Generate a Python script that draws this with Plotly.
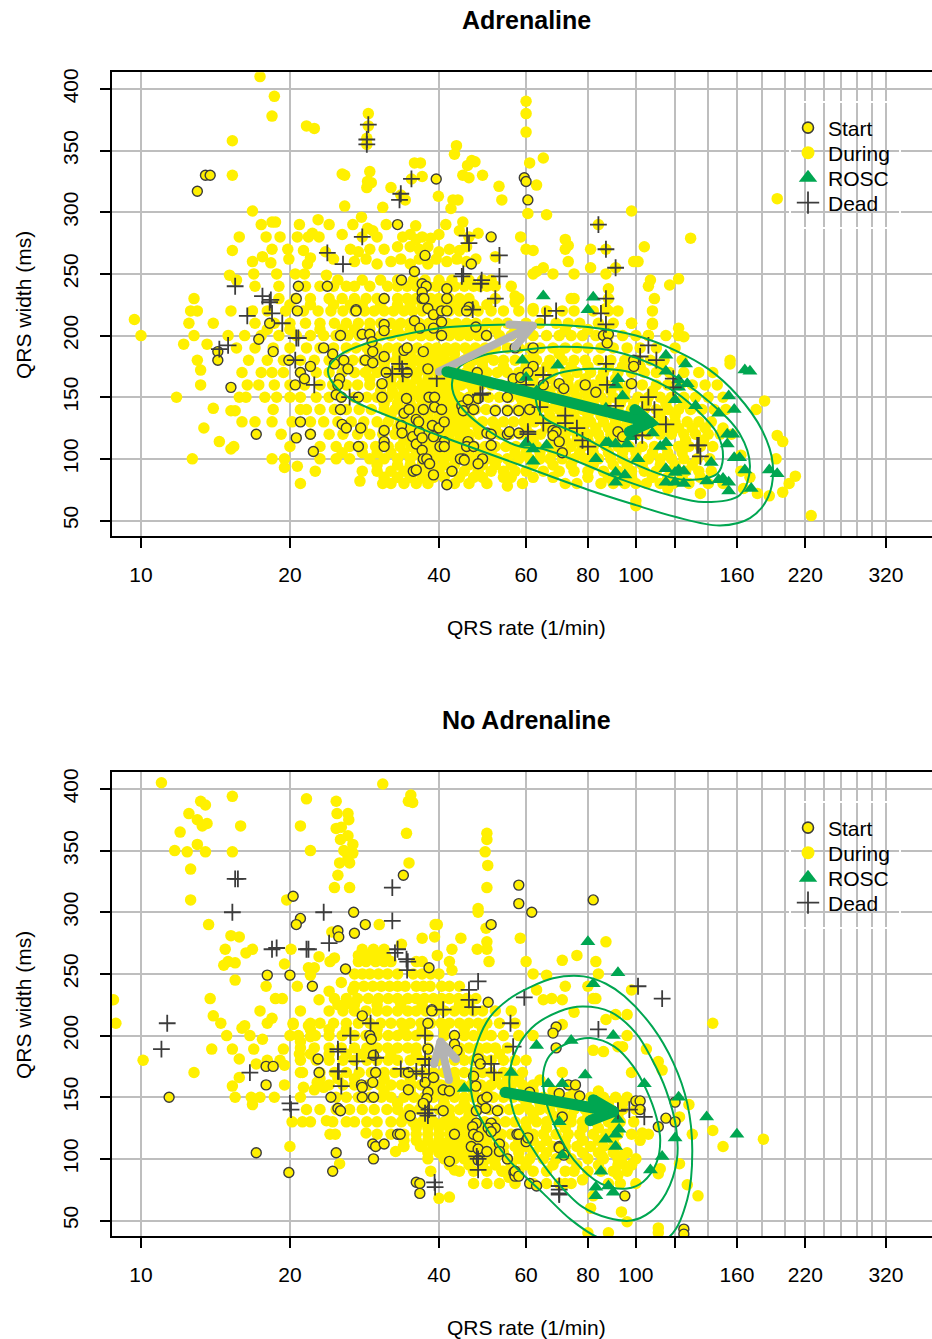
import plotly.graph_objects as go

W, H = 932, 1339
YELLOW = "#FFF000"
GREEN = "#00A651"
GREY = "#B3B3B3"
DARK = "#3C3C3C"
GRID = "#BEBEBE"
FONT = "Liberation Sans, Arial, Helvetica, sans-serif"

x_labelled = [10, 20, 40, 60, 80, 100, 120, 160, 220, 320]
x_labels = ["10", "20", "40", "60", "80", "100", "", "160", "220", "320"]
x_extra_grid = [140, 180, 200, 240, 260, 280, 300]
y_ticks = [50, 100, 150, 200, 250, 300, 350, 400]
panel_titles = ["Adrenaline", "No Adrenaline"]

# (rate, width) isolated points
during_a_sparse = [(17.4,410),(18.6,394),(18.4,378),(21.6,370),(22.4,368),(15.3,358),(15.3,330),(28.8,380),(28.8,370),(28.6,360),(28.6,355),
(43.4,354),(43,347),(35.7,340),(36.7,340),(25.5,331),(25.8,330),(29,333),(28.7,325),(29.2,324),(28.6,320),(37,329),(46.6,342),(47.3,341),(45.7,338),
(44.7,330),(46,328),(49,330),(52.9,321),(53.6,310),(32,320),(25.8,305),(30.8,304),(39.9,313),(42.7,310),(43.7,310),(42.3,303),(33.5,314),(34.2,310),(35.2,327),
(16.8,301),(17.5,290),(18.4,292),(18.7,292),(20.9,290),(22.8,294),(24,290),(26.8,290),(27.9,296),(31.3,290),(35.9,289),(41.3,290),(44.7,292),
(15.8,280),(17.9,280),(19.1,280),(20.7,280),(21.8,280),(22.2,283),(22.9,280),(25.5,282),(28.7,287),(29.4,285),(28,280),(30,280),(33.8,280),(35,282),(36,278),(37,280),(38.5,279),(40,282),(44,285),(46,280),(48,283),
(15.3,269),(16.8,260),(17.6,264),(18.4,270),(18.3,259),(19.8,270),(19.9,262),(21.3,269),(22,263),(21.7,258),(23.6,268),(26.5,270),(27.5,268),(29,270),(31,270),(33,272),(35,272),(36.5,270),(38,272),(40,268),(42,270),(44,269),(45.5,272),
(15.1,249),(16.9,250),(18.8,250),(20.5,250),(21.4,250),(23.7,249),(15.6,245),(12.8,230),(24.5,262),(27,260),(28.5,262),(30,258),(32,260),(33.5,262),(35,258),(36.5,262),(38,258),(39.5,262),(41.5,260),(43.5,262),(45.5,260),(47.5,262),(52,264),
(60,390),(60,380),(60,365),(61,340),(65,344),(63,322),(60.5,299),(66,298),(98,301),(58.5,280),(72,278),(73,273),(72,270),(60,270),(62,269),(81,270),(104,272),(129,279),
(73,260),(99,260),(101,260),(65,255),(63,252),(62,250),(68,250),(75,250),(81,255),(87,250),(84,290),(87,270),(91,255),(107,245),(106,240),(117,241),(122,246),(109,230),(88,238),(193,311),
(74,230),(75,230),(57,232),(57,227),(62,222),(88,230),(87,222),(108,220),(108,209),(122,206),(125,199),(98,210),(106,200),(155,180),(155,177),(182,147),(175,140),(193,119),(198,114),
(210,86),(204,80),(198,73),(192,100),(226,54),(150,125),(163,103),(163,90),(176,72),(186,70),(165,76),(170,85),(9.7,213),(10,200),(11.8,150),(12.6,220),(12.8,200),(12.2,193),(13.6,193),(13.2,172),(13.2,160),
(14,141),(15.2,139),(15.5,139),(13.4,125),(14.4,114),(15.4,110),(15.2,108),(16,130),(17,130),(12.7,100),(20.7,94),(19.5,93),(22.5,90),(21,80),(27.7,82),(30.8,80),(32,80),(38,80),(55,78),(100,62),(100,66),(116,76),(135,72)]

during_a_rows = [
(245,[25,28,30.5,33,35.5,37.5,40,42.5,46,49,51]),
(240,[17,19,21.5,23,24.5,26,27,29,31.5,33,34.5,36,38,39.5,41,43,45,47,48.5,50,52,56]),
(230,[19,20.5,22,24,25.5,27,28.5,30,31,33,34.5,36,37,38.5,40,42,44,46,52,58]),
(225,[20,22,24.5,26.5,28,30.5,33,35,37,39,41,43,45,47,50]),
(220,[13,15.2,16.8,18,19.6,21.3,22.8,24.2,25.6,27,28.3,29.6,31,32.4,34,35.4,37,38.6,40.3,42,44,46,48,51,54,58,62,66,71,75,82,88,92]),
(210,[12.5,14,17,18.6,20,21.5,23,24.6,26,27.5,29,30.5,32,33.5,35,36.5,38.2,39.8,41.6,43.4,45.5,47.5,50,52.5,55,60,64,69,73,77,84,90,98,108]),
(205,[18,20,23,25.5,27,29,31,33,35,37,39,41,43,45,47,49,52,57,72,80,87]),
(200,[15,16.2,17.5,19,20.6,22,23.4,24.8,26.2,27.6,29,30.5,32,33.6,35.2,36.8,38.5,40.2,42,44,46,48,50,53,56,59,62,66,70,74,78,83,88,94,100,106,115,122]),
(190,[15.6,17,18.5,20,21.6,23,24.5,26,27.2,28.6,30,31.6,33,34.6,36.2,38,39.6,41.4,43.2,45.2,47.4,49.6,52,55,58,61,64,68,72,76,80,85,90,96,102,110,120]),
(185,[29,31,33,35,37,39,41,43,46,50,62,70]),
(180,[13,16.5,18,19.4,21,22.4,24,25.4,26.8,28.2,29.8,31.2,32.8,34.4,36,37.6,39.4,41.2,43,45,47,49.2,51.6,54,57,60,63,67,71,75,79,84,89,95,101,107,114,124]),
(175,[26,29,31,33,35,37,39,41,43,46,49,54,60,66,74,80,88,94,102,112]),
(170,[16,17.5,18.4,19.4,21,22.6,24,25.5,27,28.4,30,31.5,33,34.6,36.2,38,39.8,41.6,43.4,45.4,47.4,50,52.5,55,58,61,64,68,72,76,81,86,92,98,104,110,117,125,134,143]),
(165,[29,32,34,36,38,40,42,44,46,62,67,73,79,85,91]),
(160,[16.4,17.3,18.6,20,21.4,23,24.4,26,27.4,29,30.6,32,33.6,35,37,38.8,40.6,42.4,44.4,46.4,48.6,51,53.5,56,59,62,65,69,73,77,82,87,92,97,103,110,116,123,130,138,146]),
(155,[30.5,32.2,34,35.8,37.5,39.4,41.2,43,47,60,64,67,71,75,79,84,89,95,108]),
(150,[15.8,16.3,17.8,18.8,20,21,22.6,24,25.4,27,28.6,30,31.6,33.2,35,36.6,38.4,40.2,42,44,46,48,50.4,53,55.6,58.4,61,64.6,68,72,76,80,85,90,95,101,106,112,118,125,132,140,150]),
(145,[31,33,35,37,39,41,43,45,47,59,62,65,69,73,77,82,87,93,99,105,115,125]),
(140,[18.5,21,21.6,23,24.6,26,27.6,29.2,31,32.6,34.2,36,37.8,39.6,41.4,43.4,45.4,47.4,49.8,52,55,57.6,60.4,63.4,66.6,70,74,78,82,87,92,98,104,110,116,122,129,136,144,152]),
(135,[32,34,36,38,40,42,44,46,60,63,67,71,75,80,85,90,96,101,112,120]),
(130,[18.4,20.2,22,23.4,25,26.6,28.2,30,31.6,33.4,35,36.8,38.6,40.6,42.6,44.6,46.6,49,51.4,54,56.6,59.4,62.4,65.4,69,73,77,81,86,91,96,102,108,114,120,127,134,142]),
(125,[28,31,33,35,37,39,41,43,45,48,52,60,66,70,74,78,83,88,93,110,116,122,130,138]),
(120,[19.2,22,24,25.6,27.4,29,30.8,32.6,34.4,36.2,38,40,42,44,46,48.2,50.6,53,55.6,58.4,61.2,64.2,68,72,76,80,84,89,94,100,106,112,118,125,132,140,148,156]),
(115,[34,36,38,40,42,44,46,62,68,72,76,80,85,90,95,126,137]),
(110,[20,23,24.8,26.4,28,29.8,31.6,33.4,35.2,37,39,41,43,45,47.2,49.6,52,54.6,57.2,60,63,66.4,70,74,78,82,87,92,97,103,109,115,122,128,135,143]),
(105,[25.5,28,30,32,34,36,38,40,42,44,46,48.5,51,57,60,64,68,72,77,82,88,94,100,108,116,124]),
(100,[18.4,19.5,23,24.8,26.4,29,31,33,35,37,39,41,43,45,47.5,50,52.5,55,58,61,64,67,71,75,79,84,89,94,100,106,112,118,125,133,141]),
(95,[30,33,35,37,39,41,43,46,49,52,56,62,68,74,82,90,96,103,112,120,130]),
(90,[28,30,32,34,36,38,40,42.5,45,48,51,54,57,60,65,70,75,80,86,92,98,104,110,118,126,134,142]),
(85,[31,33,35,37,39,41,44,47,49,54,56,62,68,80,88,94,98,108,116,124,135]),
(80,[34,36,43,46,50,59,72,76,85,90,95,100,105,112,119,128,140,150]),
]

start_a = [(13,317),(13.5,330),(13.8,330),(39.5,327),(33,290),(51,280),(37.5,265),(46.5,258),(35.7,252),(33.6,245),(37,242),(37.7,240),(37,235),(37,230),(37.3,230),(41.5,238),(41.5,230),(31,230),(20.8,240),(23.8,240),(20.6,230),(27.2,221),
(59.5,328),(60,325),(60.5,310),(27.2,220),(31,209),(31,204),(25.3,200),(28,201),(29,201),(29.3,195),(29.4,187),(23.4,190),(24.4,185),(25.7,180),(24.6,177),(26.2,173),(28.4,180),(29.4,178),(31,183),(25.2,165),(25,160),(24.8,152),(25.4,150),(27.5,150),(25.3,140),(25.5,128),(26,125),(27.8,125),(27.5,110),(31,123),(31,114),(31,110),(30.7,161),(30.7,150),(31.3,170),(34.5,170),(34,188),(34.5,190),(37.2,187),(35.7,212),(36.6,206),(39,206),(40.5,211),(40.5,200),(38,173),(38.2,150),(39.2,150),(34.4,149),(37.2,140),(39.2,142),(40.5,140),(34,137),(34.8,140),(36,132),(36.4,130),(33.6,127),(33.7,121),(35.4,118),(36.5,122),(38.8,127),(40,125),(41,130),(39,118),(36,112),(37,117),(41,114),(40.2,110),(41,110),(37,107),(37.2,100),(37.8,100),(38.3,96),(39,87),(42.5,90),(35.5,90),(36,91),(41.5,79),(44.8,100),(44.2,100),(45,99),(45.8,114),(45.5,110),(47,110),(49,100),(48,96),(51,111),(50,121),(51,120),(55,120),(55.5,122),(55,139),(52,139),(47,140),(44.5,143),(44.8,139),(45.8,148),(48,149),(55,150),(47.8,170),(56.5,165),(49.9,200),(47.5,207),(57,190),(38,222),(39,217),(40.5,220),(41.5,220),(46,223),(45.5,220),
(17.3,197),(18.5,187),(19.9,180),(22,175),(21,170),(21.4,165),(20.5,160),(18.2,210),(20.7,220),(14.3,187),(14.3,180),(15.2,158),(21,130),(17.1,120),(20.6,117),(22,120),(22.3,106),
(62,190),(62,175),(58.5,166),(60.5,170),(65,160),(70,161),(71.5,157),(79,160),(83,154),(98,161),(99,180),(99,175),(86,200),(88,201),(87.5,194),(61,140),(58,139),(58,121),(68,123),(69,122),(68,119),(70,114),(71,105),(92,122),(94,118)]
dead_a = [(28.8,371),(28.6,359),(28.6,355),(35.2,327),(33.5,315),(33.3,310),(28,280),(23.8,267),(25.6,258),(15.5,240),(17.6,232),(18.3,229),(45.6,281),(46,275),(53,265),(53,248),(44.8,250),(44.5,248),(48.8,245),(48.6,242),(52,230),
(16.4,216),(18.4,218),(18.2,227),(19.3,210),(20.6,198),(20.8,198),(14.4,189),(15,192),(20.5,180),(22.4,160),(26.4,150),(33.3,177),(33.7,173),(32.2,169),(33.8,169),(39.6,165),(46.8,221),(48.5,152),(49,153),
(84,290),(87,270),(91,255),(87,230),(69,220),(65.5,216),(85,218),(87,209),(87,177),(87.5,160),(106,192),(102,183),(110,180),(119,165),(119,158),(106,150),(103,140),(109,140),(91,143),(115,128),(133,111),(134,111),(135,102),(103,119),(100,119),(76,125),(78,115),(80,110),(72,135),(72,129),(65,129),(60.5,122),(60.5,120),(60,160),(65,168),(64,142)]
rosc_a = [(65,232),(82,231),(80,221),(59,180),(69.5,176),(60,166),(63,155),(92,165),(91,160),(94,151),(87,141),(115,184),(126,177),(115,171),(122,164),(127,161),(122,158),(120,148),(132,143),(147,137),(154,151),(158,140),(166,172),(170,171),(153,120),(157,120),(153,112),(158,101),(162,101),(166,91),(171,76),(186,91),(193,88),(142,97),(139,82),(147,83),(150,84),(154,81),(154,74),(115,92),(120,89),(122,91),(125,90),(115,81),(120,81),(125,80),(91,89),(95,87),(91,81),(101,100),(83,100),(87,113),(88,113),(91,112),(96,112),(98,118),(108,121),(115,113),(112,110),(60,113),(62,108),(66,111),(62,98)]

contour_a_outer = [(23.9,173),(24.1,165),(26.4,149),(33.4,131),(40,119),(58.3,95),(80,75),(100,62.5),(120,53),(148,46),(170,52),(185,69),(189,96),(180,123),(160,152),(140,173),(120,188),(100,200),(80,207),(60,209),(40,206),(33.3,200),(28.5,193.5),(25.2,184),(23.9,173)]
contour_a_middle = [(42.5,161),(43.8,145),(50.7,122),(58.3,110),(65,108),(94,83),(117,70.5),(137,65),(162,70.5),(170,93.5),(162,120.5),(142,145),(114,172),(88.6,188),(70,191),(58.3,188),(49.2,184),(44.1,175),(42.5,161)]
contour_a_inner = [(62.8,147.6),(65,134),(76,120.5),(95.6,99),(117.5,85),(130,83),(146,88),(150,101.6),(146,120.5),(133,139.5),(116,158),(95.6,171),(81,173),(68.3,168),(63.4,158),(62.8,147.6)]
arrow_grey_a = [(40,170.7),(61.9,208),(55.5,209),(61.9,208),(57,191)]
arrow_green_a = [(41.5,170.7),(106.7,129.5),(99.5,140),(106.7,129.5),(97,122)]

during_b_sparse = [(11,405),(30.8,404),(15.3,394),(13.2,390),(13.5,387),(12.5,380),(13,375),(13.3,370),(13.6,372),(15.9,370),(12,365),(13,355),(11.7,350),(12.4,349),(13.5,349),(15.3,349),(12.6,335),(12.6,310),(21.6,392),(21,370),(22,350),(24.8,390),(24.9,380),(26.2,380),(26.3,375),(24.8,368),(25.4,369),(26.2,362),(25.3,359),(26.8,355),(25.7,350),(26.8,348),(26.2,345),(25.2,340),(26.4,340),(25,330),(24.6,320),(26.4,320),(35.1,395),(34.7,390),(35.4,389),(34.4,364),(34.8,340),(50,364),(50,359),(49.6,349),(50.2,338),(50,320),(48,303),(48,300),(49.8,287),(50,276),(50,270),(50.5,260),(47.8,270),(39.7,290),(39.3,290),(39.2,280),(37,279),(44.3,279),(42.5,270),(42,260),(42.5,253),(39.7,265),
(13.7,290),(15.2,281),(15.8,280),(14.8,270),(16.3,267),(16.8,270),(15,260),(14.7,257),(15.5,259),(15.5,245),(19.7,310),(20.1,270),(19.5,258),(21.8,255),(22.4,255),(22,249),(17.9,240),(20.7,240),(18.7,230),(19.3,230),(13.8,230),(8.8,229),(24.3,284),(22.9,264),(24.1,260),(24.6,263),(30.3,290),(33.6,274),(25.4,243),(26.8,237),(24,236),(22.9,229),(24.6,230),(26.2,226),
(14,216),(18.4,214),(21.8,208),(20.3,209),(16.2,208),(16,206),(14.9,200),(8.9,210),(10.1,180),(12.8,170),(13.9,189),(15.3,189),(16.9,189),(17.6,197),(16.6,200),(19.4,189),(15.8,181),(17.1,177),(18,180),(19.1,180),(19.5,176),(15.8,166),(15.3,159),(19.5,160),(15.5,150),(16.7,150),(17.4,150),(18.6,150),(16.8,144),(21,170),(20.9,185),(20.8,200),(22,199),(21,195),(21.3,158),(22.7,162),(22.4,156),(23.4,158),(21.6,140),(20.2,130),(21.2,130),(22,130),(23.7,131),(24.4,130),(26,130),(24.1,120),(24.7,120),(20,110),(25.2,96),(28.5,121),(32.7,106),(33.9,110),(36.7,110),(39.1,110),(42,102),(43,91),(40,68),(42,69),(38.5,90),(53.6,90),(55.4,85),
(58.4,279),(87,276),(76,265),(71,261),(60,260),(83,260),(62,250),(66,249),(84,250),(72,240),(80,240),(98,237),(82,230),(83,230),(63,237),(65,229),(67.6,230),(71,229),(75,219),(91,217),(96,217),(87,213),(71,209),(96,200),(143,210),(105,189),(82,188),(86,187),(92,191),(94,191),(111,179),(113,172),(98,170),(71,170),(64,164),(56,160),(128,144),(143,123),(150,110),(181,116),(130,120),(122.5,134),(122.5,96),(127,79),(133.5,70),(111,88),(94,96),(111,44),(111,40),(88,40),(80,40),(96,49),(93.5,57),(81,60),(90,108),(85.5,102),(94,103),(103,121),(102,115),(98,95),(92,87),(112,92),(75,90),(78,83),(82,70),(72,80)]

during_b_rows = [
(270,[28,29.5,31]),
(265,[27.5,28.7,30,31.2]),
(260,[27.5,28.5,29.8,31,32,36,37]),
(250,[27,28,29,30.2,31.5,33,35.5,37,38.5,40]),
(240,[27,28.2,29.4,30.6,31.8,33,34.2,36,37.2,38.4,40.5,42,44]),
(230,[26,27.4,28.8,30.2,31.6,33,34.6,36,37.4,39,40.5,42,43.8,45.5,47.5]),
(225,[25,27,30,33.5,37,40,44,46]),
(220,[17.4,21,24,25.6,27,28.5,30,31.4,33,34.6,36,37.6,39.2,41,43,45,47,49,52,56]),
(210,[14.5,18,20.3,22,23,24.5,26,27.5,29,30.5,32,33.6,35,36.8,38.5,40.4,42,44,46,48,50,53,57]),
(205,[22,24,26,30,34,37,41,45,49]),
(200,[20,22.5,24,25.5,27,28.5,30,31.6,33,34.5,36,38,41,45,47,49,51,54,58,62]),
(190,[21,22.4,24,25.4,27,28.6,30,31.5,33,34.6,36,38,41,44,46,48,50,52,55]),
(185,[22,24,26,28,32,36,40,44,48,53]),
(180,[21,22.6,24,25.6,27,28.6,30,31.6,33,35,36.6,38.2,40,43,45,47,49,51,54,57,60]),
(170,[21.2,23,24.6,26,27.6,29.2,31,32.6,34,35.6,37.2,39,41,43,45,47,49,51,54,56,59]),
(165,[23,25,27,31,35,39,43,47,52,55,58]),
(160,[24,25.6,27,28.8,30.4,32,33.6,35.2,36.8,38.6,40.4,42.4,44.4,46.5,48.6,51,53.5,56,59,62]),
(155,[31,35,39,43,47,50,62,68,75,84]),
(150,[21,24.8,26,27.5,29,30.6,32,34,35.6,37.4,39,41,43,45,47,49,51.5,54,56.5,59,62,65,69,73,77,81,86,91,96]),
(145,[33,37,41,45,49,60,64,70,76,82,88,94]),
(140,[23,24.8,26.4,28,29.6,31.4,33,34.8,36.5,38,40,42,44,46,48,50.5,53,55.5,58,61,64,67,71,75,79,84,89,94,100]),
(135,[34,38,42,46,62,68,74,80,86,92]),
(130,[27,28.6,30,32,33.6,35.4,37,39,41,43,45,47,49.5,52,54.5,57,60,63,66,70,74,78,83,88,93,99]),
(125,[36,38,40,42,44,46,48,50,60,66,72,78,84,90]),
(120,[30,32,34,36,38,40,42,44,46,48.5,51,53.5,56,59,62,65,69,73,77,82,87,92,98,106]),
(115,[34,36,38,40,42,44,46,48,50,53,58,62,66,72,78,84,90]),
(110,[34,37,39,41,43,45,47,49,52,54,57,60,64,68,72,76,81,86,91]),
(105,[38,40,42,44,46,48,51,54,58,62,66,72,78,84,90,96]),
(100,[38,41,43,45,47,50,52,55,58,61,65,69,74,80,86,92,100]),
(95,[42,46,49,52,56,60,68,76,84,92,98]),
(90,[44,47,50,54,58,62,66,72,80,85,90,96]),
(80,[47,50,53,57,62,66,70,74,88,93,100]),
]

start_b = [(33.9,330),(20.3,313),(21,295),(20.6,290),(26.9,300),(28.4,290),(25,285),(25.1,280),(27,283),(25.9,254),(18,249),(20,249),(22.2,240),(38.2,255),(51,290),(58,322),(58,307),(50.3,227),(38.7,221),(61.6,300),(82,310),
(28,216),(29,200),(29.2,197),(29.5,184),(29.8,170),(29.4,162),(22.8,181),(22.9,170),(17.9,175),(18.5,175),(17.9,160),(11.4,150),(24.2,150),(27.9,160),(28,158),(28,150),(29.5,150),(25,141),(25.3,139),(38.7,220),(38,210),(43,200),(43,193),(43.5,188),(38,189),(34.7,170),(37.5,162),(34.7,156),(38,154),(37.8,149),(37.2,145),(39,166),(40.8,156),(42,155),(40.8,139),(35,135),(33,120),(33.4,120),(29.4,112),(29.8,110),(31,112),(24.8,105),(29.5,100),(24.4,90),(17.1,105),(19.9,89),(36,81),(36.6,80),(36.6,72),(42,98),(43,120),
(48,181),(48.5,177),(47,167),(47.5,159),(49,148),(50,150),(49.7,141),(47.6,139),(52.5,139),(47.6,129),(46.8,126),(51,129),(52,125),(50.3,125),(51,122),(47,120),(48,118),(46.5,110),(48,108),(50,106),(53,112),(53,106),(55,100),(48,99),(57.5,120),(56.7,89),(57,86),
(61,154),(57,90),(58,86),(61,80),(63,78),(58,120),(60,114),(60.5,117),(70,110),(70,109),(71.5,103),(71,134),(69,207),(68,202),(69,190),(73,160),(75.5,160),(70,153),(77,151),(100,147),(102,147),(102,140),(115,133),(120,130),(111,126),(95,70),(120,146),(125,43),(125,39)]
dead_b = [(15.5,327),(15.7,327),(15.3,300),(23.4,300),(32.2,320),(32.2,293),(18.4,270),(18.8,271),(21.6,270),(21.8,270),(24,275),(33,270),(32.6,267),(34.4,262),(34.6,260),(34.5,253),(46,237),(48,244),(46,229),(46.8,223),(40.8,221),
(11.3,210),(11,189),(16.6,170),(20,145),(20.1,140),(25,189),(25,187),(26.5,200),(27.3,179),(29.1,210),(29.8,182),(25.1,171),(25,171),(25.4,159),(33.5,173),(36,171),(37,169),(37.5,200),(37.5,181),(38.2,176),(37.5,137),(38.2,140),(38,135),(39.2,81),(39.3,77),(47.7,102),(48,100),(48,91),(51,177),(51.7,170),(55.8,210),(56.5,191),(59.5,231),(101,240),(113,230),(84,205),(70,78),(70,71),(70,72),(70,75),(92,139),(97,140),(104,134)]
rosc_b = [(80,276),(92,251),(82,242),(90,200),(74,196),(63,192),(56,170),(79,168),(66.5,161),(71,161),(104,161),(122,150),(139,134),(160,120),(92,132),(70,130),(92.5,124),(91,120),(87,116),(91,110),(120,117),(113,102),(71,103),(107,91),(85,90),(83,77),(83,70),(88,78),(90,73),(45,157)]

contour_b_outer = [(46.4,170.5),(47,145),(50.7,120.5),(55.4,99),(65,72),(74,50.5),(84,36),(100,28),(117,37),(127,67),(130,107),(127,145),(119,178),(108,207),(94.7,232),(87,242),(78.4,248),(68,246.5),(61,239),(55.2,229),(50.7,215),(48,196),(46.4,170.5)]
contour_b_middle = [(55.5,164),(56.7,137),(61.5,110),(68.7,83),(78,61),(88,52),(98,50),(107,57),(115,72),(121,99),(120.5,126),(115,156),(108,180),(100,202),(89,219),(78,223.5),(70,219.5),(61.5,206),(56.7,184),(55.5,164)]
contour_b_inner = [(65,170),(65.5,150.5),(68.7,126),(75,99),(85,80),(96,76),(103.5,81.5),(110,96.5),(112,115),(110,134),(105,156),(98.8,175),(90.5,191),(81,198),(74,195),(67,184),(65,170)]
arrow_grey_b = [(41.9,164),(40.3,195),(39.1,177),(40.3,195),(43.3,181)]
arrow_green_b = [(54.4,154),(90.1,138.4),(82,148),(90.1,138.4),(80.8,131)]

legend_names = ["Start", "During", "ROSC", "Dead"]
legend_rows_px = [128, 153, 178, 203]


def flatten(sparse, rows):
    pts = list(sparse)
    for w, rates in rows:
        pts += [(r, w) for r in rates]
    return pts


def xy(pts):
    return [p[0] for p in pts], [p[1] for p in pts]


MARK = {
    "During": dict(color=YELLOW, size=11.5),
    "Start": dict(color=YELLOW, size=10, line=dict(color=DARK, width=1.4)),
    "ROSC": dict(color=GREEN, size=13, symbol="triangle-up"),
    "Dead": dict(color=DARK, size=12, symbol="cross-thin", line=dict(color=DARK, width=1.8)),
}
LEGMARK = {
    "Start": dict(color=YELLOW, size=11, line=dict(color=DARK, width=1.6)),
    "During": dict(color=YELLOW, size=13),
    "ROSC": dict(color=GREEN, size=16, symbol="triangle-up"),
    "Dead": dict(color=DARK, size=16, symbol="cross-thin", line=dict(color=DARK, width=1.8)),
}

fig = go.Figure()
PANELS = [
    ("x", "y", flatten(during_a_sparse, during_a_rows), start_a, rosc_a, dead_a,
     [contour_a_outer, contour_a_middle, contour_a_inner], arrow_grey_a, arrow_green_a),
    ("x2", "y2", flatten(during_b_sparse, during_b_rows), start_b, rosc_b, dead_b,
     [contour_b_outer, contour_b_middle, contour_b_inner], arrow_grey_b, arrow_green_b),
]
for p, (xa, ya, during, start, rosc, dead, contours, a_grey, a_green) in enumerate(PANELS):
    common = dict(xaxis=xa, yaxis=ya)
    for name, pts in (("During", during), ("Start", start), ("ROSC", rosc), ("Dead", dead)):
        x, y = xy(pts)
        fig.add_trace(go.Scatter(x=x, y=y, mode="markers", name=name, showlegend=False,
                                 marker=MARK[name], **common))
    for c in contours:
        x, y = xy(c)
        fig.add_trace(go.Scatter(x=x, y=y, mode="lines", showlegend=False, hoverinfo="skip",
                                 line=dict(color=GREEN, width=2, shape="spline", smoothing=1), **common))
    for arrow, col, lw in ((a_grey, GREY, 8), (a_green, GREEN, 11)):
        x, y = xy(arrow)
        fig.add_trace(go.Scatter(x=x, y=y, mode="lines+markers", showlegend=False, hoverinfo="skip",
                                 line=dict(color=col, width=lw), marker=dict(color=col, size=lw), **common))
    for i, name in enumerate(legend_names):
        n = p * 4 + i + 1
        fig.add_trace(go.Scatter(x=[None], y=[None], mode="markers", name=name, showlegend=True,
                                 legend="legend" if n == 1 else "legend%d" % n, marker=LEGMARK[name], **common))

TOP_PAD = 4.0  # plotly keeps this much extra room above the plot


def fy(px):
    return 1 - (px - TOP_PAD) / (H - TOP_PAD)


TOPS = [(72, 538), (772, 1238)]
x_range = [0.9409, 2.5983]
y_range = [37.2, 413.5]
tickfont = dict(family=FONT, size=21, color="black")
layout = dict(width=W, height=H, autosize=False, margin=dict(l=0, r=0, t=0, b=0),
              plot_bgcolor="white", paper_bgcolor="white", font=dict(family=FONT, color="black"))
annotations = []
for i, (t, b) in enumerate(TOPS):
    sfx = "" if i == 0 else "2"
    layout["xaxis" + sfx] = dict(type="log", range=x_range, domain=[111.7 / W, 1], anchor="y" + sfx,
                                 tickmode="array", tickvals=x_labelled, ticktext=x_labels, ticks="outside", ticklen=10, tickwidth=2,
                                 tickcolor="black", showline=True, linecolor="black", linewidth=2, mirror=True,
                                 showgrid=True, gridcolor=GRID, gridwidth=2, zeroline=False, tickfont=tickfont, ticklabelstandoff=8,
                                 minor=dict(tickmode="array", tickvals=x_extra_grid, showgrid=True, gridcolor=GRID, gridwidth=2, ticks=""))
    layout["yaxis" + sfx] = dict(range=y_range, domain=[fy(b - 1.7), fy(t + 0.3)], anchor="x" + sfx,
                                 tickmode="array", tickvals=y_ticks, ticks="outside", ticklen=10, tickwidth=2, tickangle=-90,
                                 tickcolor="black", showline=True, linecolor="black", linewidth=2,
                                 showgrid=True, gridcolor=GRID, gridwidth=2, zeroline=False, tickfont=tickfont, ticklabelstandoff=13)
    for k, row in enumerate(legend_rows_px):
        n = i * 4 + k + 1
        key = "legend" if n == 1 else "legend%d" % n
        layout[key] = dict(x=788 / W, y=fy(row + i * 700), xanchor="left", yanchor="middle", bgcolor="rgba(0,0,0,0)",
                           font=dict(family=FONT, size=21, color="black"), itemclick=False, itemdoubleclick=False)
    annotations += [
        dict(text="<b>%s</b>" % panel_titles[i], x=526 / W, y=fy(t - 52), xref="paper", yref="paper", showarrow=False,
             xanchor="center", yanchor="middle", font=dict(family=FONT, size=25, color="black")),
        dict(text="QRS rate (1/min)", x=526 / W, y=fy(b + 89), xref="paper", yref="paper", showarrow=False,
             xanchor="center", yanchor="middle", font=dict(family=FONT, size=21, color="black")),
        dict(text="QRS width (ms)", x=23 / W, y=fy((t + b) / 2), xref="paper", yref="paper", showarrow=False,
             textangle=-90, xanchor="center", yanchor="middle", font=dict(family=FONT, size=21, color="black")),
    ]
layout["annotations"] = annotations
layout["shapes"] = [dict(type="rect", xref="paper", yref="paper", x0=790 / W, x1=900 / W, y0=fy(t + 156), y1=fy(t + 30),
                         line=dict(color="white", width=2), fillcolor="rgba(0,0,0,0)", layer="above") for t, b in TOPS]
fig.update_layout(**layout)
fig.write_html("out.html", config={"displayModeBar": False}, post_script="document.body.style.margin='0';")
